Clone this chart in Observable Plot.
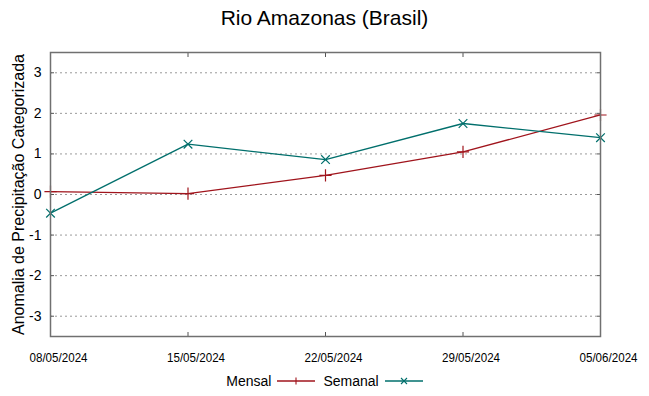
<!DOCTYPE html>
<html>
<head>
<meta charset="utf-8">
<script src="https://cdn.jsdelivr.net/npm/d3@7"></script>
<script src="https://cdn.jsdelivr.net/npm/@observablehq/plot@0.6"></script>
<style>
  html, body { margin: 0; padding: 0; background: #fff; }
  #wrap { width: 649px; height: 396px; position: relative; font-family: "Liberation Sans", Arial, sans-serif; }
  #title { position: absolute; left: 0; top: 6px; width: 649px; text-align: center; font-size: 21px; color: #000; line-height: 24px; }
  #chart { position: absolute; left: 0; top: 40px; }
  #legend { position: absolute; left: 0; top: 372px; width: 649px; text-align: center; font-size: 14px; line-height: 18px; color: #000; }
  #legend span.item { display: inline-flex; align-items: center; margin: 0 4px; }
  #legend svg { margin-left: 6px; }
</style>
</head>
<body>
<div id="wrap">
  <div id="title">Rio Amazonas (Brasil)</div>
  <div id="chart"></div>
  <div id="legend"></div>
</div>
<script>
const dates = ["2024-05-08", "2024-05-15", "2024-05-22", "2024-05-29", "2024-06-05"];
const mensal = [0.07, 0.02, 0.47, 1.05, 1.96];
const semanal = [-0.46, 1.24, 0.86, 1.75, 1.40];
const seriesNames = ["Mensal", "Semanal"];
const seriesColors = ["#a0141c", "#006f6c"];
const yTicks = [-3, -2, -1, 0, 1, 2, 3];
const yTitle = "Anomalia de Precipitação Categorizada";

const parse = d3.utcParse("%Y-%m-%d");
const fmt = d3.utcFormat("%d/%m/%Y");
const data = [];
dates.forEach((d, i) => {
  data.push({date: parse(d), value: mensal[i], series: seriesNames[0]});
  data.push({date: parse(d), value: semanal[i], series: seriesNames[1]});
});
const xTicks = dates.map(parse);
const blank = () => "";

const plot = Plot.plot({
  width: 649,
  height: 330,
  marginLeft: 50,
  marginRight: 49,
  marginTop: 12,
  marginBottom: 34,
  style: {fontFamily: "Liberation Sans, Arial, sans-serif", color: "#000", background: "transparent"},
  x: {type: "utc", domain: [xTicks[0], xTicks[xTicks.length - 1]]},
  y: {domain: [-3.5, 3.5]},
  color: {domain: seriesNames, range: seriesColors},
  marks: [
    Plot.ruleY(yTicks, {stroke: "#9a9a9a", strokeWidth: 1, strokeDasharray: "2,3"}),
    Plot.axisY(yTicks, {anchor: "left", tickSize: -4, tickPadding: 13, tickFormat: d => d, fontSize: 14, stroke: "#555", label: null}),
    Plot.axisY(yTicks, {anchor: "right", tickSize: -4, tickFormat: blank, stroke: "#555", label: null}),
    Plot.axisX(xTicks, {anchor: "bottom", tickSize: -4, tickPadding: 20, tickFormat: fmt, fontSize: 13.5, stroke: "#555", label: null}),
    Plot.axisX(xTicks, {anchor: "top", tickSize: -4, tickFormat: blank, stroke: "#555", label: null}),
    Plot.text([yTitle], {frameAnchor: "left", dx: -32, rotate: -90, fontSize: 16, textAnchor: "middle"}),
    Plot.line(data, {x: "date", y: "value", z: "series", stroke: "series", strokeWidth: 1.3}),
    Plot.dot(data.filter(d => d.series === "Mensal"), {x: "date", y: "value", symbol: "plus", r: 4, stroke: "series", strokeWidth: 1.2}),
    Plot.dot(data.filter(d => d.series === "Semanal"), {x: "date", y: "value", symbol: "times", r: 4, stroke: "series", strokeWidth: 1.2}),
    Plot.frame({stroke: "#707070", strokeWidth: 1.5})
  ]
});
// condense the x tick labels slightly and shift them right, as in the reference
plot.querySelectorAll('g[aria-label="x-axis tick label"] text').forEach(t => {
  const tr = t.getAttribute("transform") || "";
  t.setAttribute("transform", tr + " translate(8,0) scale(0.86,1)");
});
document.getElementById("chart").appendChild(plot);

// Legend
const legend = document.getElementById("legend");
const symbols = ["plus", "times"];
seriesNames.forEach((name, i) => {
  const item = document.createElement("span");
  item.className = "item";
  item.appendChild(document.createTextNode(name));
  const ns = "http://www.w3.org/2000/svg";
  const s = document.createElementNS(ns, "svg");
  s.setAttribute("width", 38); s.setAttribute("height", 10);
  const l = document.createElementNS(ns, "line");
  l.setAttribute("x1", 0); l.setAttribute("x2", 38); l.setAttribute("y1", 5); l.setAttribute("y2", 5);
  l.setAttribute("stroke", seriesColors[i]); l.setAttribute("stroke-width", 1.3);
  s.appendChild(l);
  const p = document.createElementNS(ns, "path");
  p.setAttribute("d", symbols[i] === "plus" ? "M19,1.5V8.5" : "M16,2L22,8M22,2L16,8");
  p.setAttribute("stroke", seriesColors[i]); p.setAttribute("stroke-width", 1.1); p.setAttribute("fill", "none");
  s.appendChild(p);
  item.appendChild(s);
  legend.appendChild(item);
});
</script>
</body>
</html>
